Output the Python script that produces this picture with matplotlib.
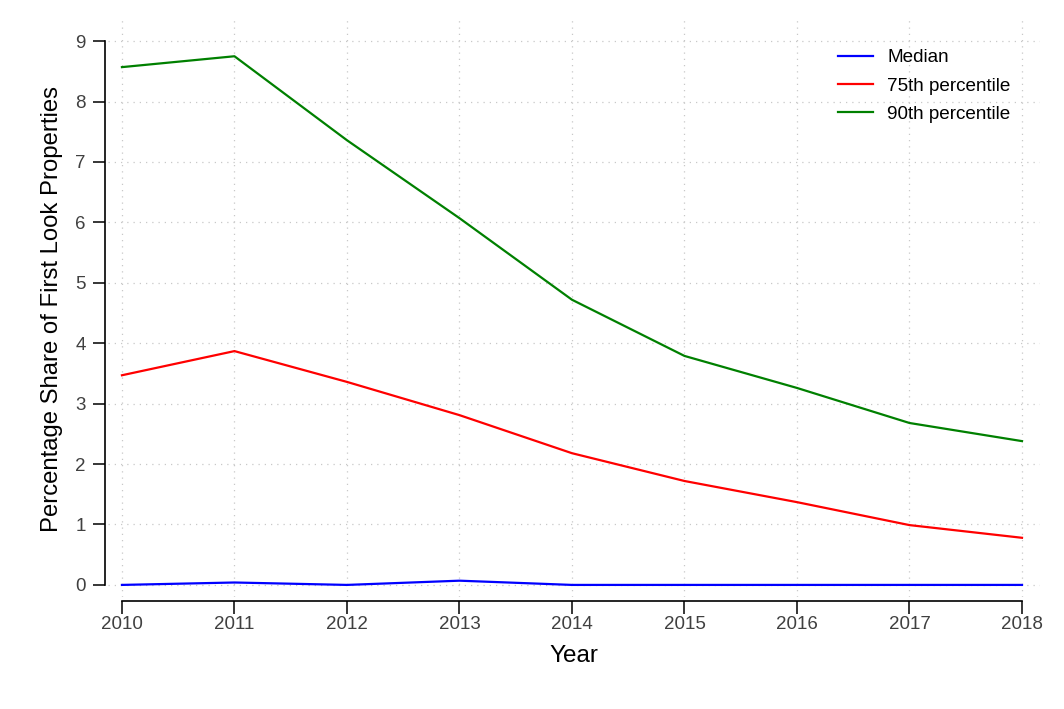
import numpy as np
from matplotlib import pyplot as plt

years = [2010, 2011, 2012, 2013, 2014, 2015, 2016, 2017, 2018]
median = [0.0, 0.04, 0.0, 0.07, 0.0, 0.0, 0.0, 0.0, 0.0]
p75 = [3.47, 3.87, 3.36, 2.81, 2.18, 1.72, 1.37, 0.99, 0.78]
p90 = [8.57, 8.75, 7.36, 6.07, 4.72, 3.79, 3.26, 2.68, 2.38]
yticks = [0, 1, 2, 3, 4, 5, 6, 7, 8, 9]

plt.rcParams['font.family'] = ['Liberation Sans', 'DejaVu Sans']

fig = plt.figure(figsize=(10.64, 7.09), dpi=100)
ax = fig.add_axes([108 / 1064, 112 / 709, 932 / 1064, 577 / 709])

ax.plot(years, median, color='#0000ff', lw=1.6, label='Median')
ax.plot(years, p75, color='#ff0000', lw=1.6, label='75th percentile')
ax.plot(years, p90, color='#008000', lw=1.6, label='90th percentile')

ax.set_xlim(2009.876, 2018.16)
ax.set_ylim(-0.2, 9.35)
ax.set_xticks(years)
ax.set_yticks(yticks)

ax.grid(True, ls=(0, (1, 4)), color='#c8c8c8', lw=0.9)

for s in ['top', 'right']:
    ax.spines[s].set_visible(False)
ax.spines['left'].set_position(('outward', 2))
ax.spines['bottom'].set_position(('outward', 3))
ax.spines['left'].set_bounds(0, 9)
ax.spines['bottom'].set_bounds(2010, 2018)
ax.spines['left'].set_linewidth(1.2)
ax.spines['bottom'].set_linewidth(1.2)

ax.tick_params(axis='both', length=9, width=1.1, labelsize=13.5, labelcolor='#404040')
ax.tick_params(axis='x', pad=2)
ax.tick_params(axis='y', pad=5)

ax.set_xlabel('Year', fontsize=17.5, labelpad=8)
ax.set_ylabel('Percentage Share of First Look Properties', fontsize=17.2, labelpad=9)

ax.legend(loc='upper right', frameon=False, fontsize=13.6, handlelength=1.85,
          borderaxespad=1.15, labelspacing=0.58, handletextpad=0.74)

plt.savefig('out.png', dpi=100)
